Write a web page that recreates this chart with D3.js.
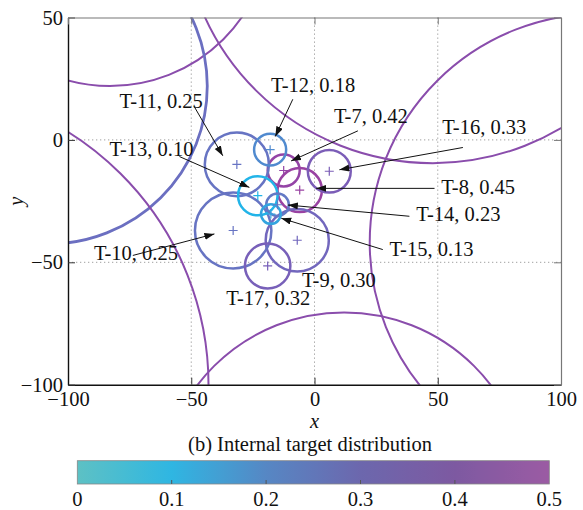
<!DOCTYPE html>
<html>
<head>
<meta charset="utf-8">
<title>internal targets</title>
<script src="https://d3js.org/d3.v7.min.js"></script>
<style>
body { margin:0; background:#fff; }
text { font-family: "Liberation Serif", "Times New Roman", serif; font-size: 20.5px; fill:#111; }
</style>
</head>
<body>
<svg id="chart" width="583" height="510"></svg>
<script>
// inner targets
const names = ["T-7","T-8","T-9","T-10","T-11","T-12","T-13","T-14","T-15","T-16","T-17"];
const tx = [-12.5, -6, -7, -33, -31.5, -18, -23, -15, -17.7, 6, -19];
const ty = [-12.5, -20.5, -41, -37, -10, -4, -22.8, -26.5, -30.3, -12.8, -51.5];
const tr = [6.5, 9, 12.8, 15.5, 13, 6.5, 8, 4.6, 4, 8.7, 9.2];
const tv = [0.42, 0.45, 0.30, 0.25, 0.25, 0.18, 0.10, 0.23, 0.13, 0.33, 0.32];

// outer targets (mostly outside the frame)
const ox = [-83, -108, -165, 48, 116, 12];
const oy = [87, 22, -100, 92, -42, -145];
const orad = [65, 64.5, 122, 101.5, 93.6, 74.5];
const ov = [0.38, 0.27, 0.38, 0.38, 0.38, 0.38];

// annotation: text start, arrow tail, arrow head (data units), null = no arrow
const labelX = [7.9, 51.4, -5.1, -89.5, -79.1, -17.6, -83.2, 41.3, 30.4, 51.8, -35.8];
const labelY = [7.1, -22.1, -60.1, -48.9, 13.2, 19.7, -6.5, -33, -47.5, 2.3, -67.6];
const tail = [[17.6,3.7],[48.7,-19.8],null,[-73.7,-47.2],[-48.9,13.8],[-8.8,16.6],[-54.8,-6.8],[38.5,-31.2],[27.7,-44.8],[60.2,-3.1],null];
const head = [[-9.5,-8.6],[0.7,-19.8],null,[-40.6,-38.4],[-37.2,-6.5],[-15.9,1.4],[-26.4,-19.4],[-10.8,-26.6],[-13.5,-32],[10.1,-12.2],null];

const xTicks = [-100, -50, 0, 50, 100];
const yTicks = [-100, -50, 0, 50];
const cbTicks = [0, 0.1, 0.2, 0.3, 0.4, 0.5];

const cmapStops = [0, 0.1, 0.2, 0.3, 0.4, 0.5];
const cmapColors = ["#52c3c4", "#22b4e8", "#5c80c9", "#7267bd", "#9046a8", "#a23d9c"];
const cbColors = ["#5dc1c4", "#2fb6e2", "#5687c4", "#6c67ad", "#7d59a1", "#9b5ba3"];
const cmap = d3.scaleLinear().domain(cmapStops).range(cmapColors);

const svg = d3.select("#chart");
const x = d3.scaleLinear([-100, 100], [68, 561]);
const y = d3.scaleLinear([-100, 50], [384.7, 17.5]);
const minus = d => d3.format("")(d).replace("-", "\u2212");

svg.append("clipPath").attr("id", "clip")
  .append("rect").attr("x", 68).attr("y", 17.5).attr("width", 493).attr("height", 367.2);

const defs = svg.append("defs");
defs.append("marker").attr("id", "arr")
  .attr("markerUnits", "userSpaceOnUse")
  .attr("markerWidth", 10).attr("markerHeight", 8)
  .attr("refX", 10).attr("refY", 3.5).attr("orient", "auto")
  .append("path").attr("d", "M0,0L10,3.5L0,7Z").attr("fill", "#111");

// grid
const grid = svg.append("g").attr("stroke", "#a0a0a0").attr("stroke-width", 1).attr("stroke-dasharray", "1.3,2.7");
grid.selectAll(".gx").data(xTicks.slice(1, -1)).join("line")
  .attr("x1", d => x(d)).attr("x2", d => x(d)).attr("y1", y(50)).attr("y2", y(-100));
grid.selectAll(".gy").data(yTicks.slice(1, -1)).join("line")
  .attr("y1", d => y(d)).attr("y2", d => y(d)).attr("x1", x(-100)).attr("x2", x(100));

// outer circles
svg.append("g").attr("clip-path", "url(#clip)")
  .selectAll("ellipse").data(ox.map((d, i) => i)).join("ellipse")
  .attr("cx", i => x(ox[i])).attr("cy", i => y(oy[i]))
  .attr("rx", i => x(orad[i]) - x(0)).attr("ry", i => y(0) - y(orad[i]))
  .attr("fill", "none").attr("stroke", i => cmap(ov[i]))
  .attr("stroke-width", i => ov[i] < 0.35 ? 2.8 : 2);

// inner circles
const idx = names.map((d, i) => i);
svg.append("g").selectAll("ellipse").data(idx).join("ellipse")
  .attr("cx", i => x(tx[i])).attr("cy", i => y(ty[i]))
  .attr("rx", i => x(tr[i]) - x(0)).attr("ry", i => y(0) - y(tr[i]))
  .attr("fill", "none").attr("stroke", i => cmap(tv[i])).attr("stroke-width", 2.5);

// centre markers
svg.append("g").selectAll("path").data(idx).join("path")
  .attr("d", i => {
    const cx = x(tx[i]), cy = y(ty[i]);
    return `M${cx - 4.5},${cy}H${cx + 4.5}M${cx},${cy - 4.5}V${cy + 4.5}`;
  })
  .attr("stroke", i => cmap(tv[i])).attr("stroke-width", 1.2);

// arrows
svg.append("g").selectAll("line").data(idx.filter(i => tail[i])).join("line")
  .attr("x1", i => x(tail[i][0])).attr("y1", i => y(tail[i][1]))
  .attr("x2", i => x(head[i][0])).attr("y2", i => y(head[i][1]))
  .attr("stroke", "#111").attr("stroke-width", 1).attr("marker-end", "url(#arr)");

// labels
svg.append("g").selectAll("text").data(idx).join("text")
  .attr("x", i => x(labelX[i])).attr("y", i => y(labelY[i]))
  .text(i => `${names[i]}, ${d3.format(".2f")(tv[i])}`);

// axes
const ax = svg.append("g");
ax.append("g").attr("transform", `translate(0,${y(-100)})`)
  .call(d3.axisBottom(x).tickValues(xTicks).tickSize(-7).tickSizeOuter(0).tickPadding(7).tickFormat(minus));
ax.append("g").attr("transform", `translate(${x(-100)},0)`)
  .call(d3.axisLeft(y).tickValues(yTicks).tickSize(-7).tickSizeOuter(0).tickPadding(5).tickFormat(minus));
ax.append("g").attr("class", "mirror").attr("transform", `translate(0,${y(50)})`)
  .call(d3.axisTop(x).tickValues(xTicks).tickSize(-7).tickSizeOuter(0).tickFormat(""));
ax.append("g").attr("class", "mirror").attr("transform", `translate(${x(100)},0)`)
  .call(d3.axisRight(y).tickValues(yTicks).tickSize(-7).tickSizeOuter(0).tickFormat(""));
ax.selectAll("text").attr("font-size", null).attr("font-family", null).style("font-size", "20.5px").attr("fill", "#111");
ax.selectAll(".domain").attr("stroke", "#111").attr("stroke-width", 1.4);
ax.selectAll(".tick line").attr("stroke", "#333");
ax.selectAll(".mirror .domain").attr("stroke", "#777").attr("stroke-width", 1.2);
ax.selectAll(".mirror .tick line").attr("stroke", "#777");

svg.append("text").attr("x", x(0)).attr("y", 428).attr("text-anchor", "middle")
  .style("font-style", "italic").text("x");
svg.append("text").attr("transform", `translate(23,${y(-25)}) rotate(-90)`).attr("text-anchor", "middle")
  .style("font-style", "italic").text("y");
svg.append("text").attr("x", 310).attr("y", 451).attr("text-anchor", "middle")
  .text("(b) Internal target distribution");

// colorbar
const cb = d3.scaleLinear([0, 0.5], [77.3, 549.3]);
const cbColor = d3.scaleLinear().domain(cmapStops).range(cbColors);
const grad = defs.append("linearGradient").attr("id", "cbgrad");
grad.selectAll("stop").data(d3.range(0, 0.501, 0.025)).join("stop")
  .attr("offset", d => d / 0.5).attr("stop-color", d => cbColor(d));
const cbg = svg.append("g");
cbg.append("rect").attr("x", cb(0)).attr("y", 460.7).attr("width", cb(0.5) - cb(0)).attr("height", 23.3)
  .attr("fill", "url(#cbgrad)").attr("stroke", "#888").attr("stroke-width", 0.8);
cbg.selectAll("line").data(cbTicks.slice(1, -1)).join("line")
  .attr("x1", d => cb(d)).attr("x2", d => cb(d)).attr("y1", 484).attr("y2", 480)
  .attr("stroke", "#555").attr("stroke-width", 1);
cbg.selectAll("text").data(cbTicks).join("text")
  .attr("x", d => cb(d)).attr("y", 506).attr("text-anchor", "middle")
  .text(d => d3.format("")(d));
</script>
</body>
</html>
